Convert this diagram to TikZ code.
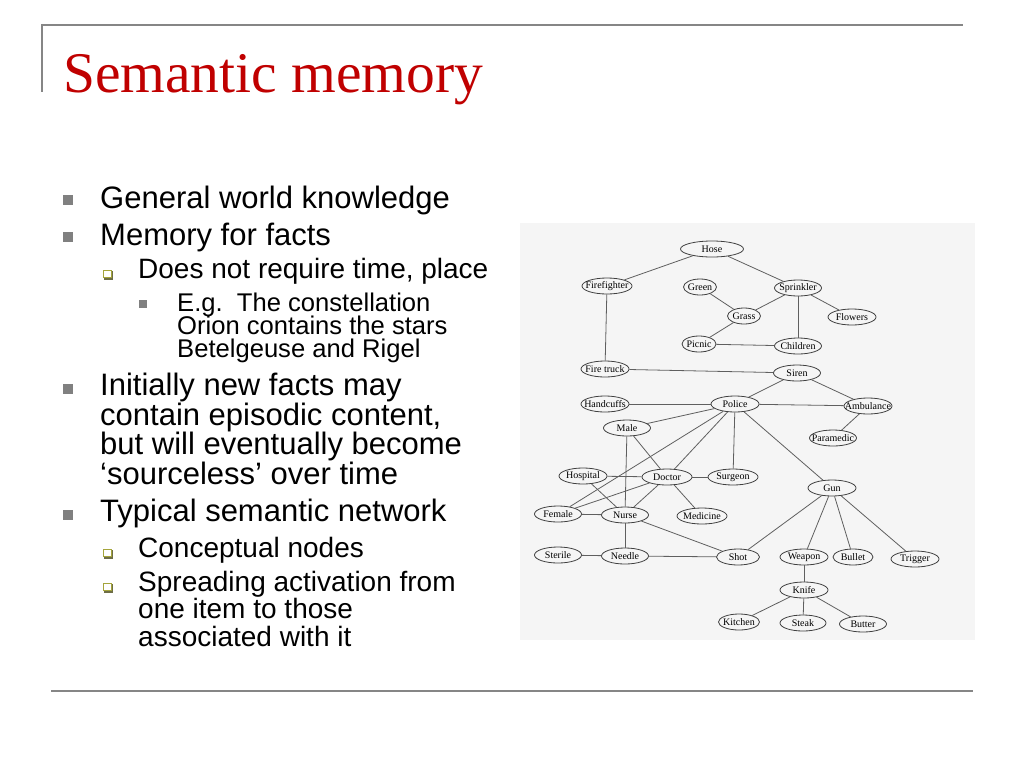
\documentclass[tikz,border=0pt]{standalone}
\usepackage{fontspec}
\setmainfont{Liberation Sans}
\newfontfamily\titlefont{Liberation Serif}
\newfontfamily\netfont{Liberation Serif}
\usetikzlibrary{shapes.geometric}
\definecolor{titlered}{RGB}{192,0,0}
\definecolor{rulegray}{RGB}{134,134,134}
\definecolor{bulgray}{RGB}{128,128,128}
\definecolor{olivebul}{RGB}{165,165,60}
\definecolor{oliveshadow}{RGB}{110,110,70}
\definecolor{scanbg}{RGB}{245,245,245}
\definecolor{edgegray}{RGB}{95,95,95}
\tikzset{
  rulel/.style={draw=rulegray, line width=2.2pt},
  lone/.style={anchor=base west, inner sep=0pt, align=left,
     font={\fontsize{31}{29.5}\selectfont\lineskiplimit=-50pt}},
  ltwo/.style={anchor=base west, inner sep=0pt, align=left,
     font={\fontsize{28}{27.2}\selectfont\lineskiplimit=-50pt}},
  lthree/.style={anchor=base west, inner sep=0pt, align=left,
     font={\fontsize{25.6}{22.8}\selectfont\lineskiplimit=-50pt}},
  bone/.style={rectangle, fill=bulgray, minimum size=10pt, inner sep=0pt},
  bthree/.style={rectangle, fill=bulgray, minimum size=8pt, inner sep=0pt},
  btwo/.style={rectangle, draw=olivebul, line width=1.3pt, fill=white,
     minimum size=7.5pt, inner sep=0pt},
  bshadow/.style={rectangle, fill=oliveshadow, minimum size=9pt, inner sep=0pt},
  netlbl/.style={inner sep=0pt, font=\netfont\fontsize{10}{12}\selectfont},
  nd/.style 2 args={ellipse, draw=black!75, line width=0.8pt, fill=scanbg,
     minimum width=#1, minimum height=16pt, inner sep=0pt,
     label={[netlbl]center:#2}},
  edge/.style={draw=edgegray, line width=0.8pt}
}
\begin{document}
\begin{tikzpicture}[x=1pt,y=-1pt]
\useasboundingbox (0,0) rectangle (1024,768);
\fill[white] (0,0) rectangle (1024,768);
% frame rules
\draw[rulel] (42,25) -- (963,25);
\draw[rulel] (42,24) -- (42,92);
\draw[rulel] (51,691) -- (973,691);
% title
\node[anchor=base west, inner sep=0pt, text=titlered,
      font=\titlefont\fontsize{57.5}{60}\selectfont] (title) at (63,92) {Semantic memory};
% bullets and text (multi-line nodes are anchored at their last baseline)
\node[bone] (ba) at (68,200) {};
\node[lone] (ta) at (100,208) {General world knowledge};
\node[bone] (bb) at (68,237) {};
\node[lone] (tb) at (100,245) {Memory for facts};
\node[bshadow] (bcs) at (108.5,275) {};
\node[btwo] (bc) at (107.5,274) {};
\node[ltwo] (tc) at (138,278) {Does not require time, place};
\node[bthree] (bd) at (142.5,304) {};
\node[lthree] (td) at (177,357.5) {E.g.\ \ The constellation\\Orion contains the stars\\Betelgeuse and Rigel};
\node[bone] (be) at (68,388.5) {};
\node[lone] (te) at (100,484.3) {Initially new facts may\\contain episodic content,\\but will eventually become\\‘sourceless’ over time};
\node[bone] (bf) at (68,515) {};
\node[lone] (tf) at (100,521.7) {Typical semantic network};
\node[bshadow] (bgs) at (108.5,554) {};
\node[btwo] (bg) at (107.5,553) {};
\node[ltwo] (tg) at (138,557.7) {Conceptual nodes};
\node[bshadow] (bhs) at (108.5,588) {};
\node[btwo] (bh) at (107.5,587) {};
\node[ltwo] (th) at (138,646) {Spreading activation from\\one item to those\\associated with it};
% scanned figure background
\fill[scanbg] (520,223) rectangle (975,640);
% network nodes
\node[nd={63pt}{Hose}] (hose) at (712,249) {};
\node[nd={50pt}{Firefighter}] (fire) at (607,286) {};
\node[nd={33pt}{Green}] (green) at (700,287) {};
\node[nd={47pt}{Sprinkler}] (sprink) at (798,288) {};
\node[nd={33pt}{Grass}] (grass) at (744,316) {};
\node[nd={48pt}{Flowers}] (flowers) at (852,317) {};
\node[nd={34pt}{Picnic}] (picnic) at (699,344) {};
\node[nd={47pt}{Children}] (children) at (798,346) {};
\node[nd={48pt}{Fire truck}] (truck) at (605,369) {};
\node[nd={47pt}{Siren}] (siren) at (797,373) {};
\node[nd={48pt}{Handcuffs}] (cuffs) at (605,404) {};
\node[nd={48pt}{Police}] (police) at (735,404) {};
\node[nd={48pt}{Ambulance}] (amb) at (868,406) {};
\node[nd={47pt}{Male}] (male) at (627,428) {};
\node[nd={47pt}{Paramedic}] (para) at (833,438) {};
\node[nd={48pt}{Hospital}] (hosp) at (583,476) {};
\node[nd={50pt}{Doctor}] (doctor) at (667,477) {};
\node[nd={50pt}{Surgeon}] (surgeon) at (733,477) {};
\node[nd={48pt}{Gun}] (gun) at (832,488) {};
\node[nd={47pt}{Female}] (female) at (558,514) {};
\node[nd={47pt}{Nurse}] (nurse) at (625,515) {};
\node[nd={50pt}{Medicine}] (med) at (702,516) {};
\node[nd={47pt}{Sterile}] (sterile) at (558,555) {};
\node[nd={47pt}{Needle}] (needle) at (625,556) {};
\node[nd={43pt}{Shot}] (shot) at (738,557) {};
\node[nd={48pt}{Weapon}] (weapon) at (804,557) {};
\node[nd={40pt}{Bullet}] (bullet) at (853,557) {};
\node[nd={48pt}{Trigger}] (trigger) at (915,559) {};
\node[nd={48pt}{Knife}] (knife) at (804,590) {};
\node[nd={41pt}{Kitchen}] (kitchen) at (739,622) {};
\node[nd={46pt}{Steak}] (steak) at (803,623) {};
\node[nd={47pt}{Butter}] (butter) at (863,624) {};
% network edges
\foreach \a/\b in {hose/fire, hose/sprink, fire/truck, green/grass, grass/sprink,
  grass/picnic, picnic/children, sprink/children, sprink/flowers, truck/siren,
  siren/police, siren/amb, cuffs/police, police/amb, amb/para, police/male,
  police/female, police/doctor, police/surgeon, police/gun, male/doctor,
  male/nurse, hosp/doctor, hosp/nurse, doctor/surgeon, doctor/female,
  doctor/nurse, doctor/med, female/nurse, nurse/needle, nurse/shot,
  sterile/needle, needle/shot, shot/gun, gun/weapon, gun/bullet, gun/trigger,
  weapon/knife, knife/kitchen, knife/steak, knife/butter}
  \draw[edge] (\a) -- (\b);
\end{tikzpicture}
\end{document}
